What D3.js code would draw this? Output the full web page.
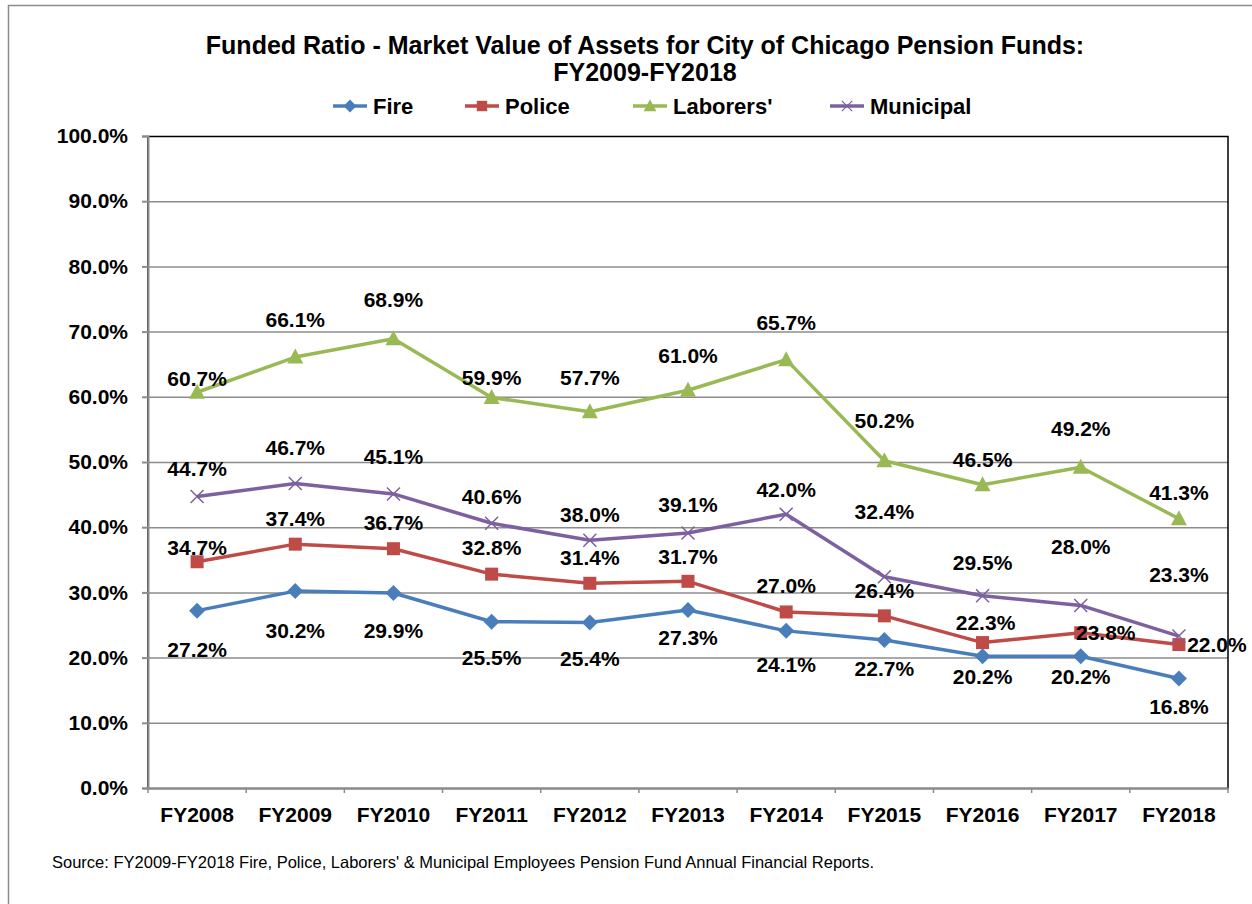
<!DOCTYPE html>
<html>
<head>
<meta charset="UTF-8">
<style>
  body { margin: 0; background: #fff; }
  svg { display: block; font-family: "Liberation Sans", Arial, sans-serif; }
  .lbl { font-size: 21px; font-weight: bold; fill: #000; }
  .axis text { font-size: 21px; font-weight: bold; fill: #000; }
</style>
</head>
<body>
<svg></svg>
<script src="https://d3js.org/d3.v7.min.js"></script>
<script>
// data
var years = ["FY2008","FY2009","FY2010","FY2011","FY2012","FY2013","FY2014","FY2015","FY2016","FY2017","FY2018"];
var fire      = [27.2, 30.2, 29.9, 25.5, 25.4, 27.3, 24.1, 22.7, 20.2, 20.2, 16.8];
var police    = [34.7, 37.4, 36.7, 32.8, 31.4, 31.7, 27.0, 26.4, 22.3, 23.8, 22.0];
var laborers  = [60.7, 66.1, 68.9, 59.9, 57.7, 61.0, 65.7, 50.2, 46.5, 49.2, 41.3];
var municipal = [44.7, 46.7, 45.1, 40.6, 38.0, 39.1, 42.0, 32.4, 29.5, 28.0, 23.3];
var seriesNames = ["Fire", "Police", "Laborers'", "Municipal"];
var yTicks = [0, 10, 20, 30, 40, 50, 60, 70, 80, 90, 100];

// label placement (pixels from the point), as placed in the original chart
var fireDy   = [39, 40, 38, 36, 36, 28, 34, 29, 20, 20, 28];
var policeDy = [-14, -26, -26, -26, -26, -25, -26, -25, -20, 0, 0];
var policeDx = [0, 0, 0, 0, 0, 0, 0, 0, 3, 25, 38];
var laborDy  = [-14, -37, -39, -20, -34, -35, -37, -40, -25, -39, -26];
var muniDy   = [-28, -36, -37, -27, -26, -28, -25, -65, -33, -59, -61];

var width = 1252, height = 904;
var svg = d3.select("svg").attr("width", width).attr("height", height);

var colors = ["#4a7ebb", "#be4b48", "#98b954", "#7d60a0"];
var symbols = ["diamond", "square", "triangle", "x"];
var series = [
  {name: seriesNames[0], values: fire, dy: fireDy},
  {name: seriesNames[1], values: police, dy: policeDy, dx: policeDx},
  {name: seriesNames[2], values: laborers, dy: laborDy},
  {name: seriesNames[3], values: municipal, dy: muniDy}
];

// outer frame
svg.append("path")
  .attr("d", "M8.5," + height + "V5.5H" + width)
  .attr("fill", "none").attr("stroke", "#8c8c8c").attr("stroke-width", 1.5);

var plotL = 148, plotR = 1228, plotT = 136, plotB = 788;

var x = d3.scaleBand().domain(years).range([plotL, plotR]);
var y = d3.scaleLinear().domain([0, 100]).range([plotB, plotT]);

// title
svg.append("text").attr("x", 645).attr("y", 54).attr("text-anchor", "middle")
  .style("font-size", "25px").style("font-weight", "bold")
  .text("Funded Ratio - Market Value of Assets for City of Chicago Pension Funds:");
svg.append("text").attr("x", 645).attr("y", 81).attr("text-anchor", "middle")
  .style("font-size", "25px").style("font-weight", "bold")
  .text("FY2009-FY2018");

// grid
svg.append("g").selectAll("line").data(yTicks.slice(1, -1)).join("line")
  .attr("x1", plotL).attr("x2", plotR)
  .attr("y1", d => y(d) + 0.5).attr("y2", d => y(d) + 0.5)
  .attr("stroke", "#8c8c8c").attr("stroke-width", 1.5);

// plot border
svg.append("rect").attr("x", plotL).attr("y", plotT + 0.5)
  .attr("width", plotR - plotL).attr("height", plotB - plotT)
  .attr("fill", "none").attr("stroke", "#000").attr("stroke-width", 1.5);

// axes
var yAxis = svg.append("g").attr("class", "axis")
  .attr("transform", "translate(" + plotL + ",0)")
  .call(d3.axisLeft(y).tickValues(yTicks).tickSize(6).tickPadding(14)
    .tickFormat(d => d.toFixed(1) + "%"));
yAxis.selectAll("line, path").attr("stroke", "#8c8c8c").attr("stroke-width", 2);

var xAxis = svg.append("g").attr("class", "axis")
  .attr("transform", "translate(0," + plotB + ")")
  .call(d3.axisBottom(x).tickSize(0).tickPadding(19));
xAxis.select("path").attr("stroke", "#8c8c8c").attr("stroke-width", 2);
xAxis.append("g").selectAll("line").data(years.map(d => x(d)).concat([plotR])).join("line")
  .attr("x1", d => d).attr("x2", d => d).attr("y1", 0).attr("y2", 5)
  .attr("stroke", "#8c8c8c").attr("stroke-width", 1.5);

function cx(i) { return x(years[i]) + x.bandwidth() / 2; }

function marker(g, type, color, s) {
  s = s || 1;
  if (type === "diamond") {
    g.append("path").attr("d", "M0,-8L8,0L0,8L-8,0Z").attr("fill", color).attr("transform", "scale(" + s + ")");
  } else if (type === "square") {
    g.append("rect").attr("x", -6.5).attr("y", -6.5).attr("width", 13).attr("height", 13).attr("fill", color).attr("transform", "scale(" + s + ")");
  } else if (type === "triangle") {
    g.append("path").attr("d", "M0,-8.5L8,6.5L-8,6.5Z").attr("fill", color).attr("transform", "scale(" + s + ")");
  } else {
    g.append("path").attr("d", "M-6.5,-6.5L6.5,6.5M-6.5,6.5L6.5,-6.5").attr("stroke", color).attr("stroke-width", 1.5).attr("transform", "scale(" + s + ")");
  }
}

var line = d3.line().x((d, i) => cx(i)).y(d => y(d));

series.forEach(function (s, k) {
  svg.append("path").datum(s.values).attr("d", line)
    .attr("fill", "none").attr("stroke", colors[k]).attr("stroke-width", 3.5)
    .attr("stroke-linejoin", "round");
  s.values.forEach(function (v, i) {
    var g = svg.append("g").attr("transform", "translate(" + cx(i) + "," + y(v) + ")");
    marker(g, symbols[k], colors[k]);
  });
});

// data labels drawn on top
series.forEach(function (s, k) {
  svg.append("g").selectAll("text").data(s.values).join("text")
    .attr("class", "lbl")
    .attr("x", (d, i) => cx(i) + (s.dx ? s.dx[i] : 0))
    .attr("y", (d, i) => y(d) + s.dy[i])
    .attr("dy", "0.35em").attr("text-anchor", "middle")
    .text(d => d.toFixed(1) + "%");
});

// legend
var legendX = [333, 465, 633, 830];
var lg = svg.append("g").selectAll("g").data(series).join("g")
  .attr("transform", (d, i) => "translate(" + legendX[i] + ",106)");
lg.append("line").attr("x1", 0).attr("x2", 34).attr("stroke", (d, i) => colors[i]).attr("stroke-width", 3.5);
lg.each(function (d, i) {
  var m = d3.select(this).append("g").attr("transform", "translate(17,0)");
  marker(m, symbols[i], colors[i], 0.8);
});
lg.append("text").attr("x", 40).attr("dy", "0.35em")
  .style("font-size", "22px").style("font-weight", "bold")
  .text(d => d.name);

// source
svg.append("text").attr("x", 52).attr("y", 868)
  .style("font-size", "16.5px")
  .text("Source: FY2009-FY2018 Fire, Police, Laborers' & Municipal Employees Pension Fund Annual Financial Reports.");
</script>
</body>
</html>
